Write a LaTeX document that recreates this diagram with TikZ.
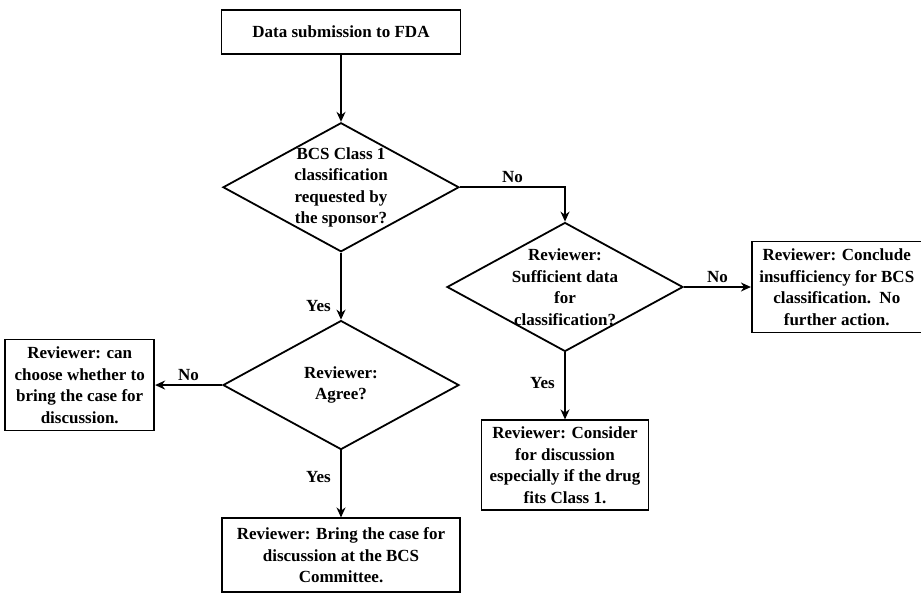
\documentclass[tikz,border=0pt]{standalone}
\usepackage{fontspec}
\setmainfont{Liberation Serif}
\usetikzlibrary{shapes.geometric, arrows.meta, positioning}

\begin{document}
\begin{tikzpicture}[x=1pt, y=1pt, node distance=67pt, auto,
    font=\fontsize{17}{21.5}\selectfont\bfseries,
    box/.style={draw, line width=1.7pt, align=center, inner sep=3pt},
    decision/.style={draw, diamond, line width=1.8pt, align=center, inner sep=-4pt,
      shape aspect=1.83, minimum width=236pt, minimum height=129pt},
    flow/.style={-{Stealth[length=10pt, width=9pt]}, line width=1.8pt}]
          \useasboundingbox (0,0) rectangle (921,-592);
          \node (submit) [box, minimum width=239pt, minimum height=44pt] at (341,-32) {Data submission to FDA};
          \node (class1) [decision, below = of submit] {BCS Class 1\\classification\\requested by\\the sponsor?};
          \node (agree) [decision, below = of class1] {Reviewer:\\Agree?};
          \node (bring) [box, below = of agree, minimum width=238pt, minimum height=74pt] {Reviewer: Bring the case for\\discussion at the BCS\\Committee.};
          \node (choose) [box, left = of agree, minimum width=149pt, minimum height=91pt] {Reviewer: can\\choose whether to\\bring the case for\\discussion.};
          
          \node (suff) [decision] at (565,-287) {Reviewer:\\Sufficient data\\for\\classification?};
          \node (conclude) [box, right = of suff, minimum width=170pt, minimum height=91pt] {Reviewer: Conclude\\insufficiency for BCS\\classification.\ \ No\\further action.};
          \node (consider) [box, below = of suff, minimum width=167pt, minimum height=90pt] {Reviewer: Consider\\for discussion\\especially if the drug\\fits Class 1.};
          
          \path [flow]
              (submit) edge (class1)
              (class1) edge node[left=6pt, pos=0.8] {Yes} (agree)
              (agree) edge node[left=6pt, pos=0.4] {Yes} (bring)
              (agree) edge node[above] {No} (choose)
              (suff) edge node[above] {No} (conclude)
              (suff) edge node[left=6pt, pos=0.45] {Yes} (consider)
              ;
          \draw [flow] (class1.east) -| node[above, pos=0.25] {No} (suff.north);
      \end{tikzpicture}
\end{document}
